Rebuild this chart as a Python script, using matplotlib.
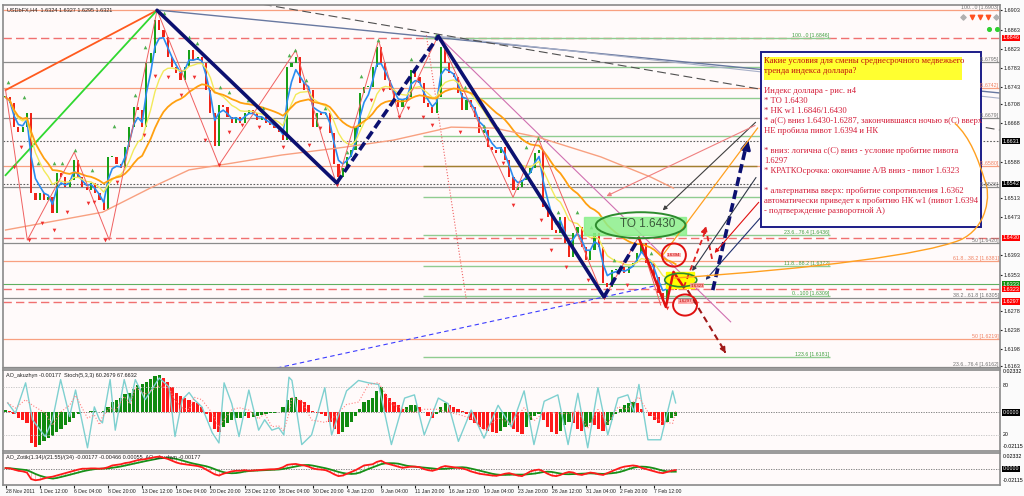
import numpy as np
import pandas as pd
import matplotlib
matplotlib.use('Agg')
import matplotlib.pyplot as plt
from matplotlib.patches import Rectangle, Ellipse, PathPatch
from matplotlib.path import Path

plt.rcParams['font.family'] = ['Liberation Sans', 'DejaVu Sans']

# H4 closes (one candle = two H4 bars)
closes = [
    1.6722, 1.6710, 1.6660, 1.6650, 1.6660, 1.6689, 1.6522, 1.6508, 1.6522, 1.6508,
    1.6514, 1.6481, 1.6564, 1.6556, 1.6535, 1.6550, 1.6591, 1.6556, 1.6535, 1.6529,
    1.6543, 1.6522, 1.6508, 1.6487, 1.6597, 1.6597, 1.6584, 1.6576, 1.6618, 1.6660,
    1.6701, 1.6695, 1.6660, 1.6793, 1.6814, 1.6882, 1.6862, 1.6847, 1.6805, 1.6785,
    1.6772, 1.6758, 1.6785, 1.6820, 1.6799, 1.6805, 1.6793, 1.6737, 1.6689, 1.6620,
    1.6705, 1.6701, 1.6681, 1.6668, 1.6681, 1.6668, 1.6689, 1.6695, 1.6689, 1.6675,
    1.6681, 1.6668, 1.6664, 1.6658, 1.6650, 1.6633, 1.6785, 1.6793, 1.6805, 1.6751,
    1.6737, 1.6737, 1.6660, 1.6689, 1.6685, 1.6689, 1.6647, 1.6584, 1.6556, 1.6576,
    1.6597, 1.6612, 1.6660, 1.6730, 1.6743, 1.6743, 1.6785, 1.6826, 1.6793, 1.6758,
    1.6737, 1.6716, 1.6701, 1.6716, 1.6722, 1.6779, 1.6764, 1.6751, 1.6710, 1.6701,
    1.6689, 1.6722, 1.6826, 1.6793, 1.6772, 1.6764, 1.6730, 1.6695, 1.6716, 1.6701,
    1.6681, 1.6647, 1.6654, 1.6618, 1.6612, 1.6606, 1.6618, 1.6591, 1.6556, 1.6529,
    1.6535, 1.6550, 1.6564, 1.6576, 1.6606, 1.6612, 1.6494, 1.6473, 1.6446, 1.6439,
    1.6473, 1.6418, 1.6389, 1.6439, 1.6452, 1.6410, 1.6383, 1.6404, 1.6439, 1.6410,
    1.6335, 1.6327, 1.6362, 1.6362, 1.6369, 1.6356, 1.6369, 1.6377, 1.6398, 1.6418,
    1.6377, 1.6377, 1.6348, 1.6315, 1.6300, 1.6327, 1.6348, 1.6321]

ao = [
    0.0015, 0.0010, -0.0010, -0.0030, -0.0040, -0.0060, -0.0170, -0.0190, -0.0180, -0.0160,
    -0.0140, -0.0130, -0.0110, -0.0090, -0.0070, -0.0050, -0.0030, -0.0010, 0.0005, 0.0005,
    0.0010, 0.0010, 0.0005, 0.0010, 0.0030, 0.0060, 0.0070, 0.0080, 0.0100, 0.0110,
    0.0130, 0.0150, 0.0160, 0.0170, 0.0185, 0.0200, 0.0210, 0.0190, 0.0170, 0.0140,
    0.0110, 0.0090, 0.0080, 0.0070, 0.0060, 0.0050, 0.0030, -0.0010, -0.0050, -0.0090,
    -0.0110, -0.0080, -0.0060, -0.0040, -0.0030, -0.0030, -0.0020, -0.0030, -0.0025, -0.0020,
    -0.0015, -0.0010, -0.0005, -0.0005, 0.0005, 0.0030, 0.0070, 0.0080, 0.0085, 0.0070,
    0.0060, 0.0040, 0.0010, -0.0005, -0.0010, -0.0020, -0.0050, -0.0090, -0.0120, -0.0110,
    -0.0080, -0.0050, -0.0020, 0.0020, 0.0060, 0.0070, 0.0080, 0.0120, 0.0140, 0.0100,
    0.0080, 0.0060, 0.0040, 0.0020, 0.0030, 0.0040, 0.0040, 0.0030, 0.0000, -0.0020,
    -0.0030, -0.0010, 0.0030, 0.0050, 0.0040, 0.0030, 0.0020, 0.0010, -0.0010, -0.0040,
    -0.0060, -0.0080, -0.0090, -0.0100, -0.0110, -0.0115, -0.0100, -0.0080, -0.0070, -0.0090,
    -0.0110, -0.0120, -0.0080, -0.0040, -0.0020, -0.0010, -0.0040, -0.0080, -0.0110, -0.0120,
    -0.0100, -0.0070, -0.0050, -0.0060, -0.0090, -0.0100, -0.0080, -0.0060, -0.0070, -0.0090,
    -0.0100, -0.0070, -0.0040, -0.0010, 0.0020, 0.0040, 0.0050, 0.0060, 0.0050, 0.0020,
    0.0000, -0.0020, -0.0040, -0.0060, -0.0070, -0.0050, -0.0030, -0.0018]

stoch_x = [0.5, 2.3, 4.7, 6.3, 9.3, 11.0, 12.9, 15.0, 16.4, 19.2, 20.8, 22.0, 22.7, 24.5, 25.7,
           27.8, 29.2, 30.4, 32.7, 36.0, 38.3, 39.7, 41.4, 43.0, 44.2, 46.0, 48.4, 50.0, 51.2, 53.0,
           54.7, 57.0, 59.3, 60.7, 62.4, 64.0, 65.2, 66.4, 67.1, 69.4, 71.7, 74.8, 76.4, 79.9, 82.7,
           85.0, 87.4, 90.4, 93.5, 95.8, 98.1, 101.4, 103.7, 106.1, 109.1, 112.1, 115.4, 118.5, 121.5, 123.8,
           126.2, 129.4, 131.8, 134.1, 136.4, 138.8, 141.1, 143.5, 145.8, 147.2, 148.4, 150.5, 153.5, 156.3, 157.0]
stoch_v = [60, 47, 85, 39, 18, 39, 89, 43, 76, 4, 55, 39, 35, 89, 26,
           89, 60, 89, 64, 91, 80, 18, 64, 73, 64, 55, 23, 10, 85, 59,
           18, 76, 26, 39, 26, 29, 20, 92, 88, 8, 20, 79, 20, 75, 88,
           85, 83, 8, 66, 70, 20, 66, 59, 12, 51, 16, 57, 30, 75, 8,
           62, 70, 8, 72, 4, 79, 20, 66, 70, 49, 83, 14, 14, 75, 60]

# slow moving average (salmon)
slow_x = [0, 22.7, 34.3, 43.0, 53.0, 64.7, 79.2, 90.9, 104.4, 114.5, 124.8, 139.5, 151.2, 156.5]
slow_p = [1.6446, 1.6483, 1.6535, 1.6571, 1.6585, 1.6602, 1.6618, 1.6633, 1.6660, 1.6658,
          1.6639, 1.6598, 1.6556, 1.6533]

# fractals
up_x = [0.5, 4.4, 7.5, 11.4, 13.3, 16.3, 20.3, 25.4, 30.4, 32.7, 35.3, 37.1, 42.9, 44.9, 50.3,
        52.3, 56.9, 60.4, 66.3, 67.8, 70.3, 74.8, 79.9, 83.2, 87.3, 95.1, 100.9, 107.6, 112.2, 115.3,
        122.0, 124.7, 129.4, 134.0, 137.1, 142.5, 148.1, 151.2]
up_p = [1.6754, 1.6722, 1.6585, 1.6585, 1.6585, 1.6612, 1.6571, 1.6662, 1.6727, 1.6826, 1.6903,
        1.6897, 1.6847, 1.6835, 1.6743, 1.6733, 1.6716, 1.6699, 1.6810, 1.6820, 1.6758, 1.6699,
        1.6608, 1.6766, 1.6841, 1.6801, 1.6851, 1.6743, 1.6662, 1.6658, 1.6619, 1.6637, 1.6483,
        1.6483, 1.6452, 1.6383, 1.6431, 1.6398]
dn_x = [2.0, 3.6, 5.5, 8.5, 11.4, 14.3, 19.2, 20.7, 23.3, 26.2, 32.4, 35.0, 38.0, 41.0, 44.1,
        46.8, 49.9, 52.3, 55.4, 59.3, 65.1, 71.0, 73.7, 77.6, 85.7, 88.5, 92.2, 94.3, 97.8, 100.0,
        106.4, 116.5, 118.9, 125.5, 127.8, 131.3, 136.4, 140.3, 145.7, 154.9]
dn_p = [1.6577, 1.6618, 1.6425, 1.6460, 1.6446, 1.6483, 1.6502, 1.6504, 1.6425, 1.6546, 1.6643,
        1.6766, 1.6764, 1.6727, 1.6764, 1.6633, 1.6581, 1.6650, 1.6664, 1.6660, 1.6618, 1.6622,
        1.6658, 1.6539, 1.6716, 1.6737, 1.6681, 1.6699, 1.6681, 1.6664, 1.6650, 1.6585, 1.6498,
        1.6467, 1.6404, 1.6369, 1.6342, 1.6304, 1.6332, 1.6284]

# zigzag (thin red)
zz_x = [0, 5.1, 16.1, 24.3, 35.5, 50.0, 68.0, 77.6, 87.4, 92.3, 101.4, 118.9, 124.8, 140.2, 148.4, 153.5]
zz_p = [1.6737, 1.6425, 1.6608, 1.6425, 1.6903, 1.6581, 1.6820, 1.6539, 1.6841, 1.6681, 1.6851,
        1.6514, 1.6637, 1.6304, 1.6433, 1.6290]

# wave marking (navy) and red continuation
wave_x = [35.5, 77.6, 101.4, 140.2, 148.4]
wave_p = [1.6903, 1.6544, 1.6849, 1.6307, 1.6429]
red_x = [148.4, 154.7, 156.5, 158.9]
red_p = [1.6429, 1.6286, 1.6359, 1.6327]

# horizontal levels
salmon_levels = [1.6903, 1.6742, 1.6580, 1.6381, 1.6219]
gray_levels = [1.6795, 1.6679, 1.6536, 1.6420, 1.6305, 1.6162]
dotted_levels = [1.6631, 1.6542]
red_levels = [1.6846, 1.6430, 1.6323, 1.6297]
green_levels = [1.6333]
fib_levels = [1.6846, 1.6785, 1.6720, 1.6641, 1.6514, 1.6436, 1.6372, 1.6309, 1.6181]
brown_levels = [1.6579]

right_texts = ["100...0 [1.6903]", "[1.6795]", "[1.6742]", "[1.6679]", "[1.6580]", "[1.6536]",
               "50 [1.6420]", "61.8...38.2 [1.6381]", "38.2...61.8 [1.6305]", "50 [1.6219]",
               "23.6...76.4 [1.6162]"]
right_text_p = [1.6903, 1.6795, 1.6742, 1.6679, 1.6580, 1.6536, 1.6420, 1.6381, 1.6305, 1.6219, 1.6162]
right_text_c = ['#707070', '#707070', '#f08060', '#707070', '#f08060', '#707070', '#707070',
                '#f08060', '#707070', '#f08060', '#707070']
fib_texts = ["100...0 [1.6846]", "23.6...76.4 [1.6436]", "11.8...88.2 [1.6372]",
             "0...100 [1.6309]", "123.6 [1.6181]"]
fib_text_p = [1.6846, 1.6436, 1.6372, 1.6309, 1.6181]

yticks = [1.6903, 1.6863, 1.6823, 1.6783, 1.6743, 1.6708, 1.6668, 1.6588, 1.6513, 1.6473,
          1.6393, 1.6353, 1.6278, 1.6238, 1.6198, 1.6163]
box_p = [1.6846, 1.6631, 1.6542, 1.6430, 1.6333, 1.6323, 1.6297]
box_c = ['#ff0000', '#000000', '#000000', '#ff0000', '#109010', '#ff0000', '#ff0000']

dates = ["28 Nov 2011", "1 Dec 12:00", "6 Dec 04:00", "8 Dec 20:00", "13 Dec 12:00",
         "16 Dec 04:00", "20 Dec 20:00", "23 Dec 12:00", "28 Dec 04:00", "30 Dec 20:00",
         "4 Jan 12:00", "9 Jan 04:00", "11 Jan 20:00", "16 Jan 12:00", "19 Jan 04:00",
         "23 Jan 20:00", "26 Jan 12:00", "31 Jan 04:00", "2 Feb 20:00", "7 Feb 12:00"]
date_pos = list(range(0, 160, 8))

box_lines = [
    "Какие условия для смены среднесрочного медвежьего",
    "тренда индекса доллара?",
    "",
    "Индекс доллара - рис. н4",
    "* ТО 1.6430",
    "* НК w1 1.6846/1.6430",
    "* a(C) вниз 1.6430-1.6287, закончившаяся ночью в(C) вверх",
    "НЕ пробила пивот 1.6394 и НК",
    "",
    "* вниз: логична c(C) вниз - условие пробитие пивота",
    "1.6297",
    "* КРАТКОсрочка: окончание A/B вниз - пивот 1.6323",
    "",
    "* альтернатива вверх: пробитие сопротивления 1.6362",
    "автоматически приведет к пробитию НК w1 (пивот 1.6394",
    "- подтверждение разворотной А)",
]

BG = '#fffafa'
SMALL = 4.0
fig = plt.figure(figsize=(10.24, 4.96), dpi=100)
fig.patch.set_facecolor('#fbfbfb')
ax = fig.add_axes([3/1024, 128/496, 997/1024, 363/496])
ax1 = fig.add_axes([3/1024, 45/496, 997/1024, 81/496], sharex=ax)
ax2 = fig.add_axes([3/1024, 11/496, 997/1024, 32/496], sharex=ax)
for a in (ax, ax1, ax2):
    a.set_facecolor(BG)
    for sp in a.spines.values():
        sp.set_color('#8a8a8a')
        sp.set_linewidth(1.2)

XR = 233.0
ax.set_xlim(-0.6, XR)
ax.set_ylim(1.6159, 1.6914)

# levels
for p in salmon_levels:
    ax.axhline(p, color='#f8a080', lw=0.9, zorder=1)
for p in gray_levels:
    ax.axhline(p, color='#8c8c8c', lw=0.9, zorder=1)
for p in dotted_levels:
    ax.axhline(p, color='#606060', lw=0.8, ls=(0, (1.5, 1.5)), zorder=1)
for p in red_levels:
    ax.axhline(p, color='#f07070', lw=1.0, ls=(0, (6, 3)), zorder=1)
for p in green_levels:
    ax.axhline(p, color='#60b060', lw=0.8, zorder=1)
ax.hlines(fib_levels, 97.9, 193.2, color='#90cc90', lw=1.0, zorder=1)
ax.hlines(brown_levels, 97.9, 176, color='#a08030', lw=1.0, zorder=1)

for t, p, c in zip(right_texts, right_text_p, right_text_c):
    ax.text(XR - 0.3, p, t, fontsize=3.8, color=c, ha='right', va='bottom', zorder=12)
for t, p in zip(fib_texts, fib_text_p):
    ax.text(193.0, p, t, fontsize=3.8, color='#40a040', ha='right', va='bottom', zorder=2)

# long lines
ax.plot([0, 35.5], [1.6737, 1.6903], color='#ff5a1e', lw=1.3, zorder=4)
ax.plot([0, 35.5], [1.6560, 1.6903], color='#30d830', lw=1.3, zorder=4)
ax.plot([36.2, XR], [1.6903, 1.6731], color='#6878a0', lw=1.0, zorder=2)
ax.plot([101.4, XR], [1.6849, 1.6720], color='#a8b0c8', lw=0.8, zorder=2)
ax.plot([57.2, XR], [1.6920, 1.6654], color='#505050', lw=0.8, ls=(0, (8, 4)), zorder=2)
ax.plot([63.6, 160.0], [1.6159, 1.6345], color='#3c3cff', lw=0.8, ls=(0, (4, 3)), zorder=2)
ax.plot([101.4, 169.9], [1.6849, 1.6255], color='#d070b0', lw=0.8, zorder=2)
ax.plot([98.6, 107.9], [1.6851, 1.6304], color='#f06060', lw=0.8, ls=':', zorder=2)

# candles
x = np.arange(len(closes))
c = np.array(closes)
o = np.r_[c[0], c[:-1]]
up = c >= o
ax.bar(x, np.maximum(np.abs(c - o), 0.00025), bottom=np.minimum(o, c), width=0.5,
       color=np.where(up, '#18a018', '#f02418'), zorder=3)

s = pd.Series(closes)
ax.plot(x, s.ewm(span=3).mean(), color='#2a8cf0', lw=1.2, zorder=4)
ax.plot(x, s.ewm(span=9).mean(), color='#f2ea5a', lw=1.0, zorder=4)
ax.plot(x, s.ewm(span=22).mean(), color='#ffa010', lw=1.3, zorder=4)
ax.plot(slow_x, slow_p, color='#f8a080', lw=1.0, zorder=4)

ax.plot(zz_x, zz_p, color='#f06060', lw=0.7, zorder=4)
ax.scatter(up_x, up_p, marker='^', s=7, color='#50b050', zorder=5, linewidths=0)
ax.scatter(dn_x, dn_p, marker='v', s=7, color='#f03030', zorder=5, linewidths=0)

# navy waves
for k in range(len(wave_x) - 1):
    ls = '-' if k % 2 == 0 else (0, (2.5, 1.2))
    ax.plot(wave_x[k:k + 2], wave_p[k:k + 2], color='#0c1070', lw=2.6, ls=ls, zorder=6,
            solid_capstyle='round')
ax.plot(red_x, red_p, color='#e01010', lw=1.8, zorder=6)

# target zone
ax.add_patch(Rectangle((135.5, 1.6435), 24, 0.0038, color='#8cf08c', alpha=0.85, zorder=5))
ax.add_patch(Ellipse((148.8, 1.6456), 21, 0.0054, fill=False, ec='#2e8b2e', lw=1.4, zorder=7))
ax.text(150.5, 1.6458, "TO 1.6430", fontsize=8.5, color='#3a5a3a', ha='center', va='center', zorder=8)
ax.add_patch(Rectangle((154.7, 1.6325), 6.5, 0.0034, color='#ffff00', zorder=5))
ax.add_patch(Ellipse((158.2, 1.6342), 7.5, 0.0028, fill=False, ec='#2e8b2e', lw=1.2, zorder=7))
ax.add_patch(Ellipse((156.6, 1.6394), 5.6, 0.0048, fill=False, ec='#e01010', lw=1.4, zorder=7))
ax.add_patch(Ellipse((159.2, 1.6290), 5.6, 0.0044, fill=False, ec='#e01010', lw=1.4, zorder=7))
for xx, pp, tt in [(156.6, 1.6394, "1.6394"), (159.3, 1.6298, "1.6297"), (162.0, 1.6330, "1.6323")]:
    ax.text(xx, pp, tt, fontsize=3.2, color='#c00000', ha='center', va='center', zorder=8,
            bbox=dict(boxstyle='square,pad=0.1', fc='#ffa0a0', ec='none', alpha=0.8))

# projected moves
ax.plot([158.9, 164.0], [1.6327, 1.6445], color='#e02020', lw=1.3, ls=(0, (3, 2)), zorder=6)
ax.annotate('', xy=(164.0, 1.6452), xytext=(163.6, 1.6442),
            arrowprops=dict(arrowstyle='-|>', color='#e02020', lw=1.2, mutation_scale=7), zorder=6)
ax.plot([164.0, 165.7], [1.6452, 1.6379], color='#e02020', lw=1.3, ls=(0, (3, 2)), zorder=6)
ax.plot([159.8, 168.3], [1.6321, 1.6197], color='#a01818', lw=1.5, ls=(0, (3, 2)), zorder=6)
ax.annotate('', xy=(168.7, 1.6190), xytext=(168.2, 1.6198),
            arrowprops=dict(arrowstyle='-|>', color='#a01818', lw=1.2, mutation_scale=8), zorder=6)
ax.plot([165.7, 173.6], [1.6321, 1.6624], color='#0c1070', lw=2.6, ls=(0, (2.5, 1.2)), zorder=6)
ax.annotate('', xy=(174.1, 1.6640), xytext=(173.6, 1.6620),
            arrowprops=dict(arrowstyle='-|>', color='#0c1070', lw=2, mutation_scale=14), zorder=6)

# pointers from the note
for (x0, p0), (x1, p1), col in [((176.2, 1.6674), (153.5, 1.6483), '#404040'),
                                ((176.2, 1.6666), (140.2, 1.6514), '#f08080'),
                                ((176.2, 1.6560), (160.5, 1.6356), '#303848'),
                                ((179.9, 1.6502), (163.6, 1.6338), '#203070'),
                                ((176.9, 1.6508), (165.7, 1.6394), '#e01010')]:
    ax.annotate('', xy=(x1, p1), xytext=(x0, p0),
                arrowprops=dict(arrowstyle='-|>', color=col, lw=0.8, mutation_scale=6), zorder=6)
ax.plot([154.0, 176.2], [1.6394, 1.6658], color='#ffa020', lw=0.9, zorder=6)

# note box
ax.add_patch(Rectangle((177.1, 1.6452), 51.4, 0.0364, fc='white', ec='#1c1c88', lw=1.4, zorder=10))
ax.add_patch(Rectangle((177.6, 1.6758), 46.5, 0.0047, fc='#ffff30', ec='none', zorder=10))
top = 1.6806
for k, line in enumerate(box_lines):
    col = '#c01010' if k < 2 else '#d41c38'
    ax.text(177.8, top - k * 0.00208, line, fontsize=6.2, family='Liberation Serif',
            color=col, va='top', ha='left', zorder=11)

arc = Path([(156.5, 1.6346), (190, 1.6366), (215, 1.6395), (223.6, 1.6425),
            (230, 1.6450), (231, 1.6520), (229.4, 1.6550),
            (228, 1.6590), (226, 1.6640), (222.4, 1.6668)],
           [Path.MOVETO] + [Path.CURVE4] * 9)
ax.add_patch(PathPatch(arc, fill=False, ec='#ffa020', lw=1.0, zorder=11))

# top right icons
ax.scatter([224.3, 232.0], [1.6889, 1.6889], marker='D', s=7, color='#b0b0b0', zorder=12)
ax.scatter([226.4, 228.3, 230.2], [1.6889, 1.6889, 1.6889], marker='v', s=10, color='#ff5020', zorder=12)
ax.scatter([230.4, 232.2], [1.6864, 1.6864], marker='o', s=7, color='#30d030', zorder=12)

ax.text(0.004, 0.995, "USDbFX,H4  1.6324 1.6327 1.6295 1.6321", transform=ax.transAxes,
        fontsize=SMALL, va='top', ha='left', color='#202020', zorder=12)

ax.yaxis.tick_right()
ax.set_yticks(yticks)
ax.set_yticklabels([f"{v:.4f}" for v in yticks])
ax.tick_params(axis='y', labelsize=SMALL, length=1.5, pad=1, colors='#202020')
ax.tick_params(axis='x', bottom=False, labelbottom=False)
for p, col in zip(box_p, box_c):
    ax.text(1.0025, p, f"{p:.4f}", transform=ax.get_yaxis_transform(), fontsize=SMALL, color='white',
            va='center', ha='left', bbox=dict(boxstyle='square,pad=0.12', fc=col, ec='none'))

# oscillator 1: AO + stochastic
aov = np.array(ao)
ao_up = np.r_[True, aov[1:] >= aov[:-1]]
ax1.bar(x, aov, width=0.75, color=np.where(ao_up, '#108a10', '#ff1a1a'), zorder=3)
ax1.set_ylim(-0.0213, 0.0235)
ax1.axhline(0, color='#707070', lw=0.6, ls=(0, (1.5, 1.5)), zorder=2)
ax1b = ax1.twinx()
ax1b.set_ylim(0, 101)
ax1b.axhline(80, color='#c0c0c0', lw=0.6, ls=(0, (1.5, 1.5)))
ax1b.axhline(20, color='#c0c0c0', lw=0.6, ls=(0, (1.5, 1.5)))
ax1b.plot(stoch_x, stoch_v, color='#7ed0d0', lw=1.0, zorder=4)
ax1b.plot(stoch_x, pd.Series(stoch_v).rolling(3, min_periods=1).mean(), color='#ff8080',
          lw=0.8, ls=':', zorder=4)
for a in (ax1, ax1b):
    a.tick_params(left=False, right=False, bottom=False, labelleft=False, labelright=False,
                  labelbottom=False)
for sp in ax1b.spines.values():
    sp.set_visible(False)
ax1.text(0.003, 0.96, "AO_akuzhyn -0.00177  Stoch(5,3,3) 60.2679 67.6632", transform=ax1.transAxes,
         fontsize=SMALL, va='top', ha='left', color='#202020')
tr1 = ax1.get_yaxis_transform()
ax1.text(1.0025, 0.0228, "0.02332", transform=tr1, fontsize=3.8, va='center')
ax1.text(1.0025, 0.0150, "80", transform=tr1, fontsize=3.8, va='center')
ax1.text(1.0025, 0.0, "0.0000", transform=tr1, fontsize=3.8, va='center', color='white',
         bbox=dict(boxstyle='square,pad=0.12', fc='black', ec='none'))
ax1.text(1.0025, -0.0122, "20", transform=tr1, fontsize=3.8, va='center')
ax1.text(1.0025, -0.0190, "-0.02115", transform=tr1, fontsize=3.8, va='center')

# oscillator 2
sig = pd.Series(ao).rolling(6, min_periods=1).mean().values
ax2.vlines(x, sig, aov, colors=np.where(aov >= sig, '#a8d8a8', '#f4a8a8'), lw=0.6, zorder=2)
ax2.plot(x, sig, color='#189018', lw=1.3, zorder=3)
ax2.plot(x, aov, color='#ff1a1a', lw=1.3, zorder=4)
ax2.axhline(0, color='#707070', lw=0.6, ls=(0, (1.5, 1.5)), zorder=1)
ax2.set_ylim(-0.027, 0.027)
ax2.text(0.003, 0.93, "AO_Zotik(1.34)/(21.55)/(34) -0.00177 -0.00466 0.00055  AO_akuzhyn -0.00177",
         transform=ax2.transAxes, fontsize=SMALL, va='top', ha='left', color='#202020')
tr2 = ax2.get_yaxis_transform()
ax2.text(1.0025, 0.021, "0.02332", transform=tr2, fontsize=3.8, va='center')
ax2.text(1.0025, 0.0, "0.0000", transform=tr2, fontsize=3.8, va='center', color='white',
         bbox=dict(boxstyle='square,pad=0.12', fc='black', ec='none'))
ax2.text(1.0025, -0.020, "-0.02115", transform=tr2, fontsize=3.8, va='center')
ax2.tick_params(axis='y', left=False, labelleft=False)
ax2.set_xticks(date_pos)
ax2.set_xticklabels(dates)
ax2.tick_params(axis='x', labelsize=3.7, length=2, pad=1, colors='#202020')
for lab in ax2.get_xticklabels():
    lab.set_ha('left')

fig.savefig('out.png', dpi=100, facecolor=fig.get_facecolor())
